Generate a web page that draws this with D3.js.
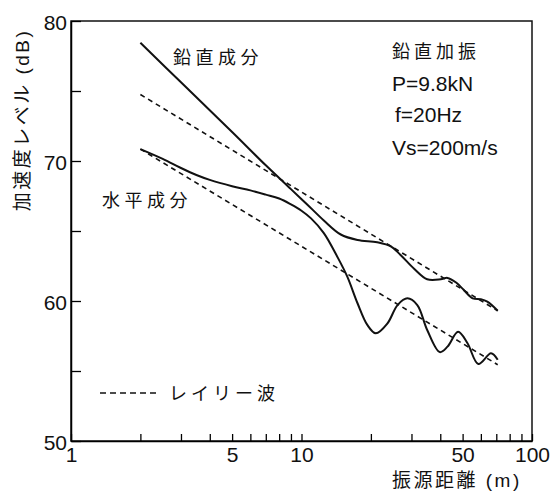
<!DOCTYPE html>
<html>
<head>
<meta charset="utf-8">
<script src="https://cdn.jsdelivr.net/npm/d3@7"></script>
<style>
  body { margin: 0; background: #fff; }
  svg text { font-family: "Liberation Sans", Arial, "Noto Sans CJK JP", sans-serif; fill: #111; }
</style>
</head>
<body>
<svg width="554" height="491"></svg>
<script>
// distance (m) and level (dB)
const vertDist  = [2, 3, 5, 7, 9, 10.5, 12.5, 14.8, 17.5, 21.3, 24.4, 26.9, 30.8, 35.1, 40.2, 43, 47, 50.5, 55.3, 60, 64, 71];
const vertLevel = [78.45, 75.62, 72.07, 69.69, 67.99, 66.95, 65.75, 64.75, 64.36, 64.19, 63.9, 63.29, 62.3, 61.55, 61.55, 61.65, 61.3, 60.8, 60.19, 60.12, 59.95, 59.3];

const horzDist  = [2, 2.5, 3, 3.5, 4, 5, 6, 7, 8, 9, 10, 11, 12.5, 14.3, 15.8, 17.5, 19.3, 21, 23.6, 26.1, 28.8, 31.8, 35.1, 39.8, 43, 47.8, 52.5, 58.5, 66.4, 71];
const horzLevel = [70.85, 70.15, 69.5, 69.0, 68.65, 68.2, 67.9, 67.6, 67.32, 66.9, 66.45, 65.9, 64.85, 63.16, 61.74, 59.84, 58.29, 57.69, 58.4, 59.71, 60.19, 59.71, 57.93, 56.35, 56.74, 57.8, 56.98, 55.5, 56.26, 55.8];

const rayDist = [2, 71];
const rayVertLevel = [74.75, 59.3];
const rayHorzLevel = [70.85, 55.45];

const xTicks = [1, 2, 3, 4, 5, 6, 7, 8, 9, 10, 20, 30, 40, 50, 60, 70, 80, 90, 100];
const xTickLabels = [1, 5, 10, 50, 100];
const yTicks = [50, 55, 60, 65, 70, 75, 80];
const yTickLabels = [50, 60, 70, 80];

const notes = ['鉛直加振', 'P=9.8kN', 'f=20Hz', 'Vs=200m/s'];

const margin = {left: 71, top: 21, right: 22, bottom: 50};
const W = 554, H = 491;
const innerW = W - margin.left - margin.right;
const innerH = H - margin.top - margin.bottom;

const svg = d3.select('svg');
const g = svg.append('g').attr('transform', `translate(${margin.left},${margin.top})`);

const x = d3.scaleLog().domain([1, 100]).range([0, innerW]);
const y = d3.scaleLinear().domain([50, 80]).range([innerH, 0]);

// frame
g.append('rect')
  .attr('width', innerW).attr('height', innerH)
  .attr('fill', 'none').attr('stroke', '#111').attr('stroke-width', 1.5);

const yAxis = g.append('g')
  .call(d3.axisLeft(y).tickValues(yTicks).tickSizeInner(-10).tickSizeOuter(0).tickPadding(4)
    .tickFormat(d => yTickLabels.includes(d) ? d : ''));
yAxis.select('.domain').attr('stroke-width', 1.5);
yAxis.selectAll('line').attr('stroke-width', 1.3);
yAxis.selectAll('text').attr('font-size', 21).attr('dy', '0.42em');

const xAxis = g.append('g')
  .attr('transform', `translate(0,${innerH})`)
  .call(d3.axisBottom(x).tickValues(xTicks).tickSizeInner(-7).tickSizeOuter(0).tickPadding(6)
    .tickFormat(d => xTickLabels.includes(d) ? d : ''));
xAxis.select('.domain').attr('stroke-width', 1.5);
xAxis.selectAll('line').attr('stroke-width', 1.3);
xAxis.selectAll('text').attr('font-size', 21);
svg.selectAll('.tick text').attr('fill', '#111');

const line = d3.line()
  .x(d => x(d[0]))
  .y(d => y(d[1]))
  .curve(d3.curveCatmullRom.alpha(0.5));

const ray = d3.line().x(d => x(d[0])).y(d => y(d[1]));

g.append('path')
  .datum(rayDist.map((d, i) => [d, rayVertLevel[i]]))
  .attr('d', ray).attr('fill', 'none').attr('stroke', '#111')
  .attr('stroke-width', 1.6).attr('stroke-dasharray', '5,4');
g.append('path')
  .datum(rayDist.map((d, i) => [d, rayHorzLevel[i]]))
  .attr('d', ray).attr('fill', 'none').attr('stroke', '#111')
  .attr('stroke-width', 1.6).attr('stroke-dasharray', '5,4');

g.append('path')
  .datum(vertDist.map((d, i) => [d, vertLevel[i]]))
  .attr('d', line).attr('fill', 'none').attr('stroke', '#111').attr('stroke-width', 2);
g.append('path')
  .datum(horzDist.map((d, i) => [d, horzLevel[i]]))
  .attr('d', line).attr('fill', 'none').attr('stroke', '#111').attr('stroke-width', 2);

// curve labels
svg.append('text').attr('x', 173).attr('y', 64)
  .attr('font-size', 18).style('letter-spacing', '4.5px').text('鉛直成分');
svg.append('text').attr('x', 102).attr('y', 207)
  .attr('font-size', 18).style('letter-spacing', '4.5px').text('水平成分');

// conditions
svg.append('text').attr('x', 392).attr('y', 58)
  .attr('font-size', 18).style('letter-spacing', '4px').text(notes[0]);
svg.append('text').attr('x', 392).attr('y', 91).attr('font-size', 21).text(notes[1]);
svg.append('text').attr('x', 395).attr('y', 122).attr('font-size', 21).text(notes[2]);
svg.append('text').attr('x', 392).attr('y', 155).attr('font-size', 21).text(notes[3]);

// legend
svg.append('line').attr('x1', 100).attr('x2', 160).attr('y1', 393).attr('y2', 393)
  .attr('stroke', '#111').attr('stroke-width', 1.6).attr('stroke-dasharray', '6,4');
svg.append('text').attr('x', 169).attr('y', 400)
  .attr('font-size', 18).style('letter-spacing', '4px').text('レイリー波');

// axis titles
svg.append('text').attr('x', 392).attr('y', 487)
  .attr('font-size', 19).style('letter-spacing', '2.5px').text('振源距離 (m)');
svg.append('text')
  .attr('transform', 'translate(29,120) rotate(-90)')
  .attr('text-anchor', 'middle')
  .attr('font-size', 19).style('letter-spacing', '2.5px').text('加速度レベル (dB)');
</script>
</body>
</html>
